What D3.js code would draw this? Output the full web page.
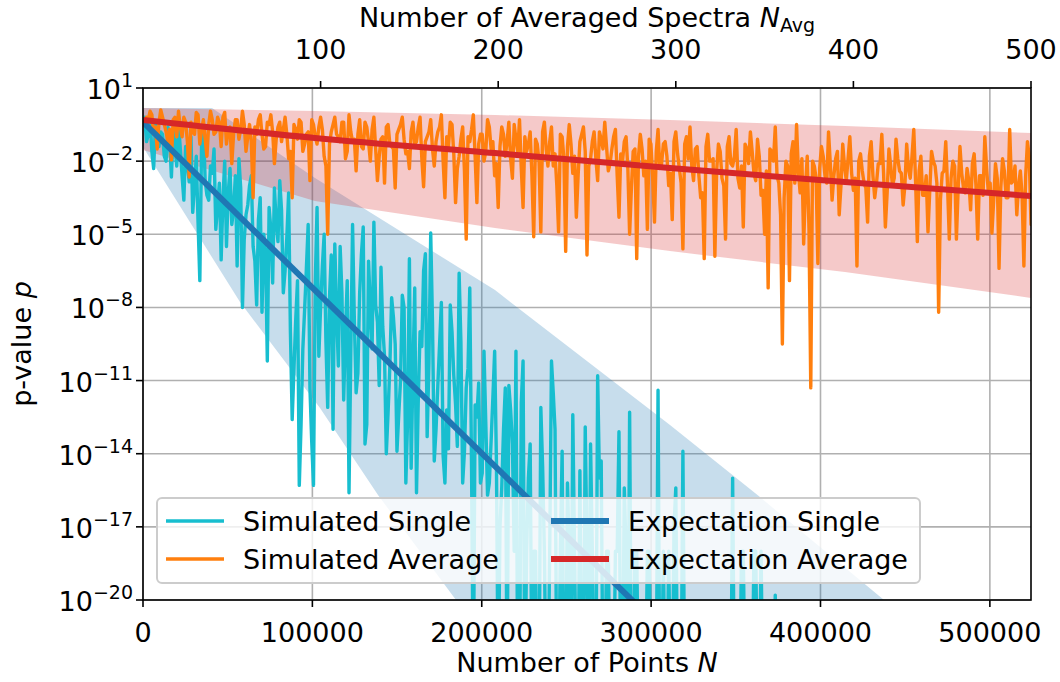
<!DOCTYPE html>
<html><head><meta charset="utf-8">
<script src="https://cdn.jsdelivr.net/npm/d3@7"></script>
<style>body{margin:0;background:#fff}svg{display:block}text{font-family:"DejaVu Sans",sans-serif;fill:#000}</style>
</head><body><svg id="c" width="1060" height="682"></svg>
<script>
// ---------------- data ----------------
const N_MAX = 524288;           // number of points at N_Avg = 500
const NAVG_MAX = 500;
const yTickExps = [1, -2, -5, -8, -11, -14, -17, -20];
const xTicksBottom = [0, 100000, 200000, 300000, 400000, 500000];
const xTicksTop = [100, 200, 300, 400, 500];

// simulated p-values (log10 p) of the averaged spectra, even N_Avg = 2,4,...,500
const simAverageLogEven = [
-0.2,0.05,-0.9,-1.5,0.1,-0.5,-1.2,-1.95,-0.2,0.05,
-1.0,-0.4,-2.65,-0.8,0.0,-1.3,-0.3,-1.8,0.05,-0.9,
-0.2,-1.4,0.0,-0.7,-2.1,-0.3,-1.1,0.05,-1.6,-0.5,
-3.5,-0.9,-0.1,-1.5,-0.4,-0.1,-2.1,-0.6,-1.2,-0.2,
-1.9,-3.5,-0.7,-0.3,-1.6,-0.9,-2.8,-0.5,-1.3,-0.2,
-1.8,-5.0,-0.8,-0.2,-1.0,-0.4,-1.9,-0.1,-1.2,-2.4,
-0.3,-1.5,-0.6,-2.0,-0.2,-2.8,-1.1,-2.9,-0.5,-1.4,
-3.1,-0.7,-0.2,-1.7,-2.3,-0.4,-1.2,-0.2,-3.05,-1.0,
-0.3,-2.2,-0.8,-0.1,-3.5,-1.4,-0.5,-3.7,-1.8,-0.6,
-5.2,-1.2,-0.1,-3.7,-0.9,-2.0,-0.3,-1.5,-2.6,-3.9,
-0.6,-1.8,-0.4,-2.7,-1.1,-0.3,-3.9,-1.6,-0.8,-5.1,
-1.3,-4.9,-0.4,-2.2,-0.6,-1.7,-4.9,-1.0,-5.7,-0.5,
-2.5,-4.3,-1.2,-0.6,-5.85,-1.9,-0.8,-2.8,-1.1,-0.4,
-2.4,-1.5,-0.7,-4.3,-2.0,-1.0,-5.0,-1.6,-6.0,-0.9,
-2.6,-4.8,-1.3,-4.5,-0.7,-2.1,-1.2,-3.0,-4.4,-0.8,
-2.3,-5.6,-1.0,-0.6,-2.8,-1.4,-3.5,-6.0,-0.9,-2.0,
-5.9,-1.3,-2.7,-5.2,-1.0,-2.2,-0.7,-3.1,-4.7,-1.5,
-0.8,-2.5,-1.1,-3.4,-5.0,-7.2,-1.6,-0.6,-2.9,-9.5,
-2.0,-6.9,-1.2,-0.5,-3.3,-5.4,-1.8,-11.3,-2.2,-6.2,
-1.4,-2.6,-0.8,-3.6,-1.9,-4.2,-1.3,-2.8,-1.0,-3.2,
-6.3,-1.7,-2.9,-4.5,-1.2,-3.5,-2.1,-0.9,-4.7,-1.5,
-3.0,-1.1,-2.4,-3.8,-1.3,-2.7,-0.7,-5.3,-1.8,-3.4,
-4.9,-1.6,-2.2,-8.2,-2.5,-1.2,-5.2,-2.0,-5.2,-1.4,
-3.1,-2.3,-4.0,-1.7,-5.2,-2.6,-1.0,-3.3,-4.95,-2.1,
-6.4,-1.9,-3.5,-0.7,-2.8,-4.2,-2.4,-6.3,-1.2,-4.6
];
// odd N_Avg = 1,3,...,499
const simAverageLogOdd = [
-0.5,-0.3,-0.1,-0.6,-0.4,-0.2,-0.8,-0.7,-0.3,-1.0,
-0.6,-0.2,-1.2,-0.4,-0.9,-0.1,-0.7,-1.1,-0.5,-0.3,
-0.8,-0.4,-0.2,-1.3,-0.6,-0.9,-0.3,-0.7,-0.5,-1.0,
-1.2,-0.6,-0.3,-0.9,-1.4,-0.5,-0.8,-1.1,-0.4,-0.7,
-0.9,-1.6,-0.5,-1.1,-0.4,-1.3,-0.8,-0.3,-1.0,-0.6,
-0.7,-2.2,-1.3,-0.5,-0.9,-1.2,-0.4,-1.6,-0.8,-1.1,
-0.9,-1.4,-0.4,-1.2,-0.7,-1.5,-1.8,-1.0,-0.6,-1.3,
-1.5,-0.9,-0.5,-1.1,-1.6,-0.8,-1.3,-0.6,-1.9,-1.2,
-0.8,-1.5,-1.2,-0.6,-2.0,-1.0,-0.4,-1.7,-2.3,-1.1,
-2.4,-1.0,-0.7,-1.8,-1.3,-0.9,-1.6,-0.6,-1.2,-2.1,
-1.4,-0.9,-1.2,-1.9,-0.5,-1.6,-2.3,-1.0,-1.3,-2.6,
-1.1,-2.0,-0.8,-1.5,-1.2,-2.2,-3.0,-0.9,-1.9,-1.4,
-1.3,-1.8,-2.6,-0.9,-1.6,-2.2,-1.2,-1.9,-0.8,-1.5,
-1.4,-2.1,-1.0,-2.6,-1.7,-1.2,-2.3,-3.1,-1.5,-1.8,
-1.5,-2.0,-1.1,-2.7,-1.6,-2.3,-1.3,-1.8,-2.5,-1.2,
-1.7,-2.9,-1.3,-1.9,-2.2,-1.5,-2.6,-3.3,-1.4,-2.0,
-1.9,-2.4,-1.6,-3.0,-1.4,-2.1,-1.8,-2.7,-2.2,-1.3,
-2.1,-1.6,-2.8,-1.8,-3.2,-2.4,-1.5,-2.0,-2.6,-4.2,
-3.5,-2.2,-1.7,-2.9,-2.4,-1.9,-3.1,-4.8,-2.0,-2.7,
-2.3,-1.8,-2.9,-2.1,-2.6,-1.6,-3.0,-2.2,-1.9,-2.5,
-2.7,-2.0,-2.4,-3.1,-1.8,-2.6,-2.9,-2.1,-2.5,-3.3,
-2.2,-2.7,-1.9,-2.5,-3.0,-2.3,-1.8,-2.8,-2.4,-3.4,
-2.6,-3.2,-2.0,-2.9,-3.6,-2.4,-3.0,-2.7,-2.2,-3.1,
-2.5,-3.3,-2.8,-2.1,-3.0,-2.6,-3.4,-2.3,-2.9,-3.6,
-2.7,-3.1,-2.4,-3.5,-2.9,-2.2,-3.0,-3.4,-2.6,-1.8
];
// single-spectrum p-values (log10 p), even N_Avg = 2,4,...,500 (values below 1e-20 fall off the axis)
const simSingleLogEven = [
-1.2,-0.3,-2.3,-1.0,-0.8,-1.8,-0.6,-2.65,-1.3,-0.4,
-2.6,-1.4,-2.85,-4.1,-1.8,-6.9,-0.5,-3.4,-2.2,-1.5,
-3.8,-6.05,-2.0,-3.3,-4.6,-2.6,-1.9,-8.0,-4.2,-3.0,
-5.5,-7.9,-3.5,-5.0,-10.2,-4.8,-3.1,-5.3,-4.0,-6.5,
-3.3,-12.6,-8.5,-15.3,-9.7,-6.4,-11.3,-15.3,-3.9,-8.0,
-5.0,-12.1,-5.85,-5.4,-10.4,-7.4,-9.0,-15.6,-4.6,-11.5,
-7.4,-4.7,-12.8,-8.0,-4.5,-8.6,-6.35,-10.0,-12.3,-7.6,
-9.5,-12.4,-7.5,-15.2,-6.0,-10.6,-15.6,-9.0,-6.5,-13.3,
-4.95,-14.3,-11.2,-7.8,-15.2,-13.8,-9.0,-12.0,-6.6,-15.2,
-11.3,-7.2,-24,-12.5,-15.2,-9.8,-15.7,-13.5,-9.8,-24,
-15.4,-11.3,-11.2,-13.6,-9.8,-24,-10.2,-18,-13.6,-18,
-24,-12.1,-18,-24,-10.2,-13.0,-24,-13.9,-24,-18,
-12.4,-24,-14.7,-24,-18,-13.6,-24,-10.8,-14.3,-24,
-18,-24,-18,-13.1,-24,-18,-12.3,-24,-18,-24,
-24,-18,-24,-24,-11.4,-24,-24,-18,-24,-15.4,
-24,-13.9,-24,-24,-24,-24,-24,-24,-24,-24,
-24,-24,-24,-24,-24,-15.0,-24,-24,-18,-24,
-24,-18,-24,-18,-24,-24,-24,-19.8,-24,-24,
-24,-24,-24,-24,-24,-24,-24,-24,-24,-24,
-24,-24,-24,-24,-24,-24,-24,-24,-24,-24,
-24,-24,-24,-24,-24,-24,-24,-24,-24,-24,
-24,-24,-24,-24,-24,-24,-24,-24,-24,-24,
-24,-24,-24,-24,-24,-24,-24,-24,-24,-24,
-24,-24,-24,-24,-24,-24,-24,-24,-24,-24,
-24,-24,-24,-24,-24,-24,-24,-24,-24,-24
];
// odd N_Avg = 1,3,...,499
const simSingleLogOdd = [
-0.2,-0.9,-1.6,-0.5,-1.4,-0.9,-2.0,-1.1,-0.7,-2.2,
-1.5,-3.6,-2.1,-1.0,-3.0,-4.5,-1.2,-2.8,-3.6,-2.5,
-4.8,-2.9,-3.6,-5.5,-2.3,-4.0,-6.3,-3.1,-5.2,-3.8,
-2.6,-6.1,-4.4,-8.2,-5.7,-3.9,-7.0,-4.5,-2.8,-7.4,
-5.1,-9.0,-10.5,-6.9,-12.8,-8.1,-4.6,-13.5,-7.0,-10.0,
-6.3,-9.4,-7.6,-13.0,-8.2,-5.5,-11.8,-6.9,-9.9,-8.5,
-10.7,-5.8,-13.6,-6.1,-9.7,-7.9,-11.2,-8.8,-14.0,-10.4,
-8.4,-13.9,-11.0,-8.0,-12.6,-14.6,-7.2,-11.8,-9.6,-5.8,
-10.3,-8.6,-13.0,-9.5,-14.1,-12.2,-7.9,-10.8,-13.7,-9.4,
-13.9,-10.5,-14.6,-12.0,-11.1,-14.8,-12.7,-15.2,-11.7,-14.3,
-17,-13.0,-24,-12.2,-18,-24,-11.9,-24,-15.0,-24,
-18,-24,-14.5,-24,-18,-11.5,-24,-18,-24,-15.2,
-24,-18,-24,-24,-12.9,-24,-18,-24,-15.0,-24,
-18,-24,-24,-18,-24,-15.4,-24,-24,-18,-24,
-24,-24,-18,-24,-24,-24,-18,-24,-24,-17,
-24,-24,-24,-24,-24,-24,-24,-24,-24,-24,
-24,-24,-24,-24,-24,-24,-24,-24,-18,-24,
-24,-24,-18,-24,-24,-24,-24,-24,-24,-24,
-24,-24,-24,-24,-24,-24,-24,-24,-24,-24,
-24,-24,-24,-24,-24,-24,-24,-24,-24,-24,
-24,-24,-24,-24,-24,-24,-24,-24,-24,-24,
-24,-24,-24,-24,-24,-24,-24,-24,-24,-24,
-24,-24,-24,-24,-24,-24,-24,-24,-24,-24,
-24,-24,-24,-24,-24,-24,-24,-24,-24,-24,
-24,-24,-24,-24,-24,-24,-24,-24,-24,-24
];

// expectation curves (log10 p) at sample points N
const expSingleN = [0, 524288];
const expSingleLog = [-0.4, -36.0];
const expAverageN = [0, 101552, 207826, 311146, 414466, 524288];
const expAverageLog = [-0.31, -1.05, -1.67, -2.28, -2.86, -3.43];

// spread bands (log10 p)
const bandSingleUpperN = [0, 40738, 101552, 207826, 311146, 364283, 437495, 524288];
const bandSingleUpperLog = [0.18, 0.18, -2.69, -7.29, -12.82, -15.78, -20.0, -25.0];
const bandSingleLowerN = [0, 57270, 104502, 138746, 184797, 269815];
const bandSingleLowerLog = [-1.42, -7.78, -12.12, -15.69, -20.0, -27.8];
const bandAverageN = [0, 101552, 207826, 311146, 414466, 524288];
const bandAverageUpperLog = [0.18, 0.057, -0.107, -0.31, -0.56, -0.85];
const bandAverageLowerLog = [-1.54, -3.63, -4.74, -5.69, -6.55, -7.61];

// merge odd/even samples into one table per series (N_Avg = 1..500)
function merge(odd, even) {
  const out = [];
  for (let i = 0; i < even.length; i++) { out.push([2 * i + 1, odd[i]]); out.push([2 * i + 2, even[i]]); }
  return out;
}
const simAverage = merge(simAverageLogOdd, simAverageLogEven);
const simSingle = merge(simSingleLogOdd, simSingleLogEven);

// ---------------- chart ----------------
const L = 143, R = 1031, T = 88, B = 600;
const svg = d3.select("#c");
const x = d3.scaleLinear().domain([0, N_MAX]).range([L, R]);
const xTop = d3.scaleLinear().domain([0, NAVG_MAX]).range([L, R]);
const y = d3.scaleLog().domain([1e-20, 1e1]).range([B, T]);
const P = v => Math.pow(10, v);
const nToN = n => n * N_MAX / NAVG_MAX;

svg.append("defs").append("clipPath").attr("id", "clip")
  .append("rect").attr("x", L).attr("y", T).attr("width", R - L).attr("height", B - T);

// grid
const grid = svg.append("g").attr("stroke", "#b0b0b0").attr("stroke-width", 1.6);
xTicksBottom.forEach(t => grid.append("line").attr("x1", x(t)).attr("x2", x(t)).attr("y1", T).attr("y2", B));
yTickExps.forEach(e => grid.append("line").attr("x1", L).attr("x2", R).attr("y1", y(P(e))).attr("y2", y(P(e))));

const plot = svg.append("g").attr("clip-path", "url(#clip)");
const lineGen = d3.line().x(d => x(d[0])).y(d => y(P(d[1])));

// single band polygon
const sUp = bandSingleUpperN.map((n, i) => [n, bandSingleUpperLog[i]]);
const sLo = bandSingleLowerN.map((n, i) => [n, bandSingleLowerLog[i]]);
const sPoly = sUp.concat([[N_MAX, -40]], sLo.slice().reverse());
plot.append("path").attr("d", lineGen(sPoly) + "Z")
  .attr("fill", "#1f77b4").attr("fill-opacity", 0.25).attr("stroke", "none");

const aArea = d3.area().x((d, i) => x(bandAverageN[i]))
  .y0((d, i) => y(P(bandAverageLowerLog[i]))).y1((d, i) => y(P(bandAverageUpperLog[i])));
plot.append("path").attr("d", aArea(bandAverageN))
  .attr("fill", "#d62728").attr("fill-opacity", 0.25).attr("stroke", "none");

// simulated lines
const simLine = d3.line().x(d => x(nToN(d[0]))).y(d => y(P(d[1])));
plot.append("path").attr("d", simLine(simSingle)).attr("fill", "none")
  .attr("stroke", "#17becf").attr("stroke-width", 3.4).attr("stroke-linejoin", "round").attr("stroke-linecap", "round");
plot.append("path").attr("d", simLine(simAverage)).attr("fill", "none")
  .attr("stroke", "#ff7f0e").attr("stroke-width", 3.4).attr("stroke-linejoin", "round").attr("stroke-linecap", "round");

// expectation lines
plot.append("path").attr("d", lineGen(expSingleN.map((n, i) => [n, expSingleLog[i]])))
  .attr("fill", "none").attr("stroke", "#1f77b4").attr("stroke-width", 6);
plot.append("path").attr("d", d3.line().curve(d3.curveMonotoneX).x(d => x(d[0])).y(d => y(P(d[1])))(expAverageN.map((n, i) => [n, expAverageLog[i]])))
  .attr("fill", "none").attr("stroke", "#d62728").attr("stroke-width", 6);

// spines
const sp = svg.append("g").attr("stroke", "#000").attr("stroke-width", 1.6).attr("fill", "none");
sp.append("rect").attr("x", L).attr("y", T).attr("width", R - L).attr("height", B - T);

// ticks & labels
const FS = 27, SFS = 19;
const tk = svg.append("g").attr("stroke", "#000").attr("stroke-width", 1.6);
xTicksBottom.forEach(t => {
  tk.append("line").attr("x1", x(t)).attr("x2", x(t)).attr("y1", B).attr("y2", B + 7);
  svg.append("text").attr("x", x(t)).attr("y", 642).attr("text-anchor", "middle").attr("font-size", FS).text(t);
});
xTicksTop.forEach(t => {
  tk.append("line").attr("x1", xTop(t)).attr("x2", xTop(t)).attr("y1", T).attr("y2", T - 7);
  svg.append("text").attr("x", xTop(t)).attr("y", 59).attr("text-anchor", "middle").attr("font-size", FS).text(t);
});
yTickExps.forEach(e => {
  const yy = y(P(e));
  tk.append("line").attr("x1", L).attr("x2", L - 7).attr("y1", yy).attr("y2", yy);
  const t = svg.append("text").attr("x", 133).attr("y", yy + 11).attr("text-anchor", "end").attr("font-size", FS);
  t.append("tspan").text("10");
  t.append("tspan").attr("font-size", SFS).attr("dy", -12).text(e < 0 ? "\u2212" + (-e) : String(e));
});

// axis titles
const bt = svg.append("text").attr("x", 587).attr("y", 672).attr("text-anchor", "middle").attr("font-size", FS);
bt.append("tspan").text("Number of Points ");
bt.append("tspan").attr("font-style", "italic").text("N");
const tt = svg.append("text").attr("x", 587).attr("y", 27).attr("text-anchor", "middle").attr("font-size", FS);
tt.append("tspan").text("Number of Averaged Spectra ");
tt.append("tspan").attr("font-style", "italic").text("N");
tt.append("tspan").attr("font-size", SFS).attr("dy", 5).text("Avg");
const yl = svg.append("text").attr("transform", "translate(31,344) rotate(-90)").attr("text-anchor", "middle").attr("font-size", FS);
yl.append("tspan").text("p-value ");
yl.append("tspan").attr("font-style", "italic").text("p");

// legend
const lg = svg.append("g");
lg.append("rect").attr("x", 157).attr("y", 498).attr("width", 763).attr("height", 85).attr("rx", 5)
  .attr("fill", "#fff").attr("fill-opacity", 0.8).attr("stroke", "#cccccc").attr("stroke-width", 2);
const legendItems = [
  {label: "Simulated Single", color: "#17becf", w: 3.4, col: 0, row: 0},
  {label: "Simulated Average", color: "#ff7f0e", w: 3.4, col: 0, row: 1},
  {label: "Expectation Single", color: "#1f77b4", w: 6, col: 1, row: 0},
  {label: "Expectation Average", color: "#d62728", w: 6, col: 1, row: 1}
];
const colX = [166, 551], rowY = [521, 559];
legendItems.forEach(it => {
  const lx = colX[it.col], ly = rowY[it.row];
  lg.append("line").attr("x1", lx).attr("x2", lx + 58).attr("y1", ly).attr("y2", ly)
    .attr("stroke", it.color).attr("stroke-width", it.w);
  lg.append("text").attr("x", lx + 77).attr("y", ly + 10).attr("font-size", FS).text(it.label);
});
</script></body></html>
